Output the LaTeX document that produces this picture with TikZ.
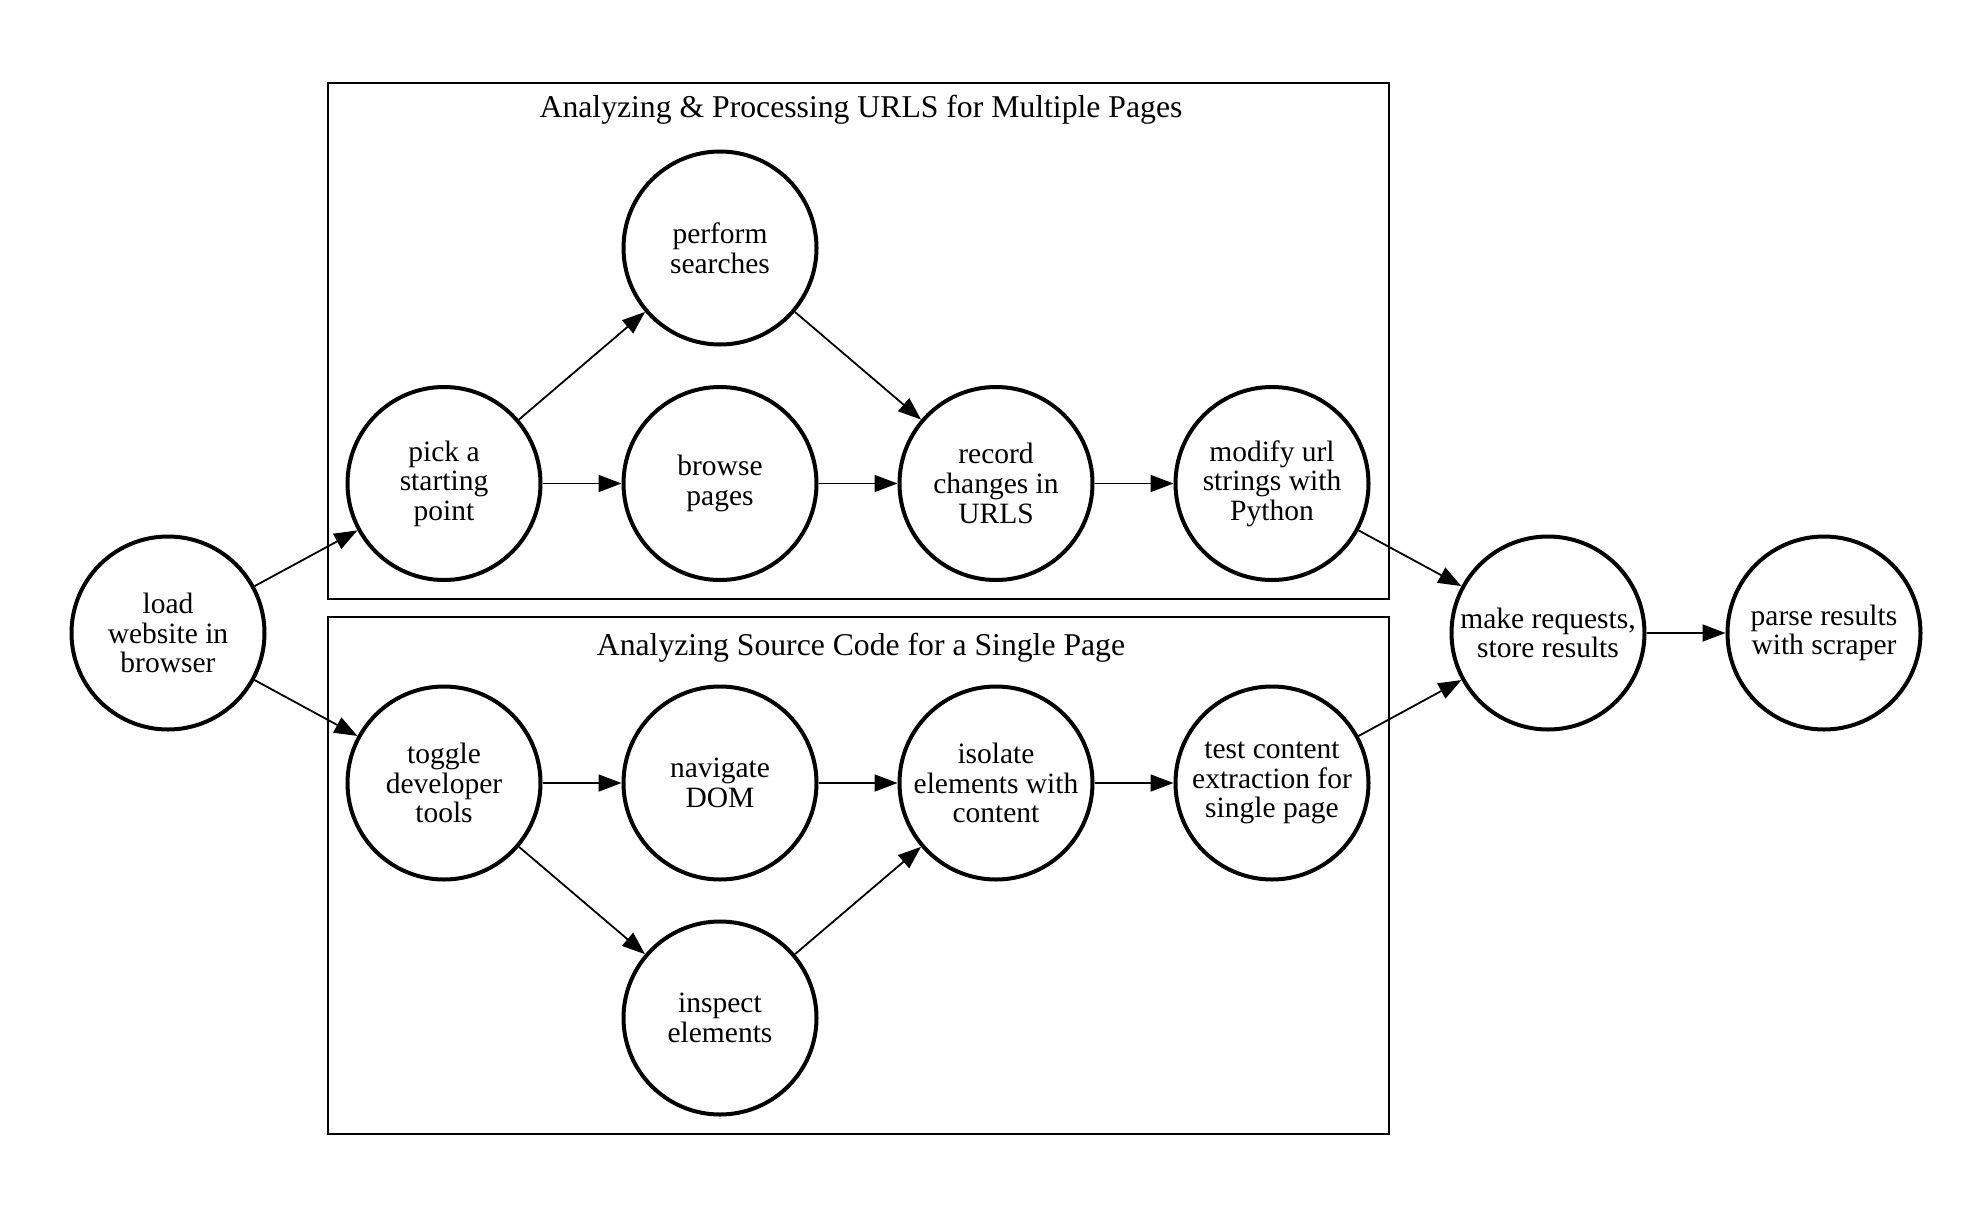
\documentclass[tikz,border=0pt]{standalone}
\usepackage{fontspec}
\setmainfont{Liberation Serif}
\usetikzlibrary{arrows.meta}
\begin{document}
\begin{tikzpicture}[x=0.5pt,y=-0.5pt,
  proc/.style={circle, draw, line width=2pt, minimum size=96.5pt, inner sep=0pt,
    align=center, font=\fontsize{14.75pt}{14.8pt}\selectfont},
  flow/.style={-{Triangle[length=11.5pt,width=8.5pt]}, line width=0.9pt},
  cluster/.style={draw, line width=1pt},
  ctitle/.style={anchor=base, inner sep=0pt, font=\fontsize{15.85pt}{16pt}\selectfont}]
\useasboundingbox (0,0) rectangle (1988,1216);
% clusters
\draw[cluster] (328,83) rectangle (1389,599);
\draw[cluster] (328,617) rectangle (1389,1134);
\node[ctitle] (t1) at (861,117) {Analyzing \& Processing URLS for Multiple Pages};
\node[ctitle] (t2) at (861,655) {Analyzing Source Code for a Single Page};
% nodes
\node[proc] (load) at (168,633) {load\\website in\\browser};
\node[proc] (pick) at (444,483.5) {pick a\\starting\\point};
\node[proc] (perform) at (720,248) {perform\\searches};
\node[proc] (browse) at (720,483.5) {browse\\pages};
\node[proc] (record) at (996,483.5) {record\\changes in\\URLS};
\node[proc] (modify) at (1272,483.5) {modify url\\strings with\\Python};
\node[proc] (toggle) at (444,783) {toggle\\developer\\tools};
\node[proc] (navigate) at (720,783) {navigate\\DOM};
\node[proc] (isolate) at (996,783) {isolate\\elements with\\content};
\node[proc] (test) at (1272,783) {test content\\extraction for\\single page};
\node[proc] (inspect) at (720,1018) {inspect\\elements};
\node[proc] (make) at (1548,633) {make requests,\\store results};
\node[proc] (parse) at (1824,633) {parse results\\with scraper};
% edges
\draw[flow] (load) -- (pick);
\draw[flow] (load) -- (toggle);
\draw[flow] (pick) -- (perform);
\draw[flow] (pick) -- (browse);
\draw[flow] (perform) -- (record);
\draw[flow] (browse) -- (record);
\draw[flow] (record) -- (modify);
\draw[flow] (modify) -- (make);
\draw[flow] (toggle) -- (navigate);
\draw[flow] (toggle) -- (inspect);
\draw[flow] (navigate) -- (isolate);
\draw[flow] (inspect) -- (isolate);
\draw[flow] (isolate) -- (test);
\draw[flow] (test) -- (make);
\draw[flow] (make) -- (parse);
\end{tikzpicture}
\end{document}
